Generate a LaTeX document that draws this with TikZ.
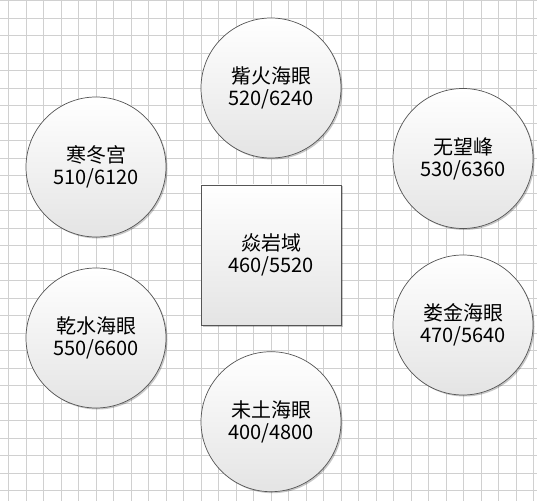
\documentclass[tikz,border=0pt]{standalone}
\usepackage{fontspec}
\setmainfont{Noto Sans CJK SC}
\usetikzlibrary{shadows}
\definecolor{gridc}{RGB}{208,208,208}
\definecolor{edgec}{RGB}{85,85,85}
\definecolor{shadeb}{RGB}{228,228,228}
\begin{document}
\begin{tikzpicture}[x=1bp,y=-1bp,
  shapebase/.style={draw=edgec, line width=0.7bp, minimum size=140bp, inner sep=0pt,
    top color=white, bottom color=shadeb,
    drop shadow={shadow xshift=1.5bp, shadow yshift=-1.5bp, opacity=0.22, fill=black},
    align=center, font=\fontsize{20bp}{22bp}\selectfont, text=black},
  place/.style={shapebase, circle},
  centerbox/.style={shapebase, rectangle}]
\useasboundingbox (0,0) rectangle (537,501);
\fill[white] (0,0) rectangle (537,501);
\foreach \i in {0,...,30} \draw[gridc, line width=0.6bp] ({8.3+17.5*\i},0) -- ({8.3+17.5*\i},501);
\foreach \j in {0,...,28} \draw[gridc, line width=0.6bp] (0,{0.7+17.5*\j}) -- (537,{0.7+17.5*\j});
\node[place] (zihuo) at (271,88) {觜火海眼\\520/6240};
\node[place] (handong) at (96,167) {寒冬宫\\510/6120};
\node[place] (wuwang) at (463,158.5) {无望峰\\530/6360};
\node[centerbox] (yanyan) at (271,255) {焱岩域\\460/5520};
\node[place] (qianshui) at (96,338) {乾水海眼\\550/6600};
\node[place] (loujin) at (463,325) {娄金海眼\\470/5640};
\node[place] (weitu) at (271,421.7) {未土海眼\\400/4800};
\end{tikzpicture}
\end{document}
